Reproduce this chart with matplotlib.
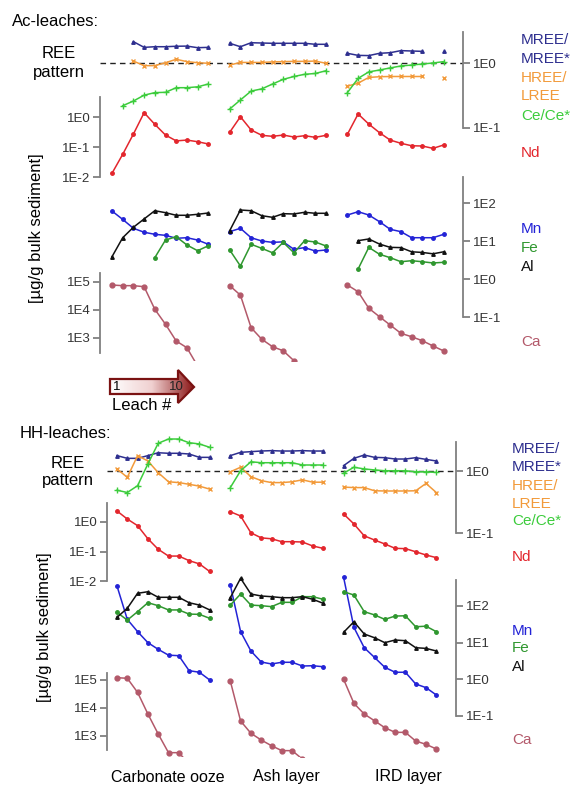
import numpy as np
import matplotlib
matplotlib.use('Agg')
import matplotlib.pyplot as plt
from matplotlib.patches import Polygon
from matplotlib.colors import LinearSegmentedColormap
from matplotlib.ticker import NullLocator

plt.rcParams['font.family'] = ['Liberation Sans', 'DejaVu Sans']

nan = np.nan
groups = ['Carbonate ooze', 'Ash layer', 'IRD layer']

# Ac-leaches, 10 leaches per sediment type (carbonate ooze, ash layer, IRD layer)
ac_mree = [nan, nan, 2.13, 1.74, 1.78, 1.78, 1.81, 1.82, 1.72, 1.74,
           2.01, 1.78, 2.05, 2.03, 2.01, 2.01, 2.01, 2.01, 1.94, 1.94,
           1.41, 1.31, 1.30, 1.41, 1.44, 1.55, 1.53, 1.51, nan, 1.53]
ac_hree = [nan, nan, 1.07, 0.91, 0.91, 1.01, 1.14, 1.05, 1.01, 0.99,
           0.93, 1.02, 1.02, 1.02, 1.04, 1.05, 1.06, 1.06, 1.07, 0.99,
           0.44, 0.49, 0.60, 0.615, 0.62, 0.62, 0.62, 0.62, nan, 0.59]
ac_ce = [nan, 0.22, 0.26, 0.32, 0.35, 0.354, 0.417, 0.417, 0.43, 0.475,
         0.196, 0.27, 0.37, 0.40, 0.475, 0.56, 0.62, 0.67, 0.69, 0.76,
         0.35, 0.58, 0.73, 0.78, 0.84, 0.90, 0.93, 0.965, 1.0, 1.05]
ac_nd = [0.0133, 0.057, 0.27, 1.39, 0.57, 0.25, 0.16, 0.17, 0.15, 0.126,
         0.31, 1.02, 0.37, 0.245, 0.227, 0.25, 0.215, 0.238, 0.21, 0.245,
         0.265, 1.26, 0.58, 0.30, 0.17, 0.133, 0.11, 0.108, 0.09, 0.117]
ac_mn = [61.5, 37, 21.6, 17, 15, 14.1, 11.8, 12.2, 10.6, 8.2,
         17.6, 21.6, 12.2, 10, 9.2, 9.5, 6.05, 6.7, 5.45, 5.8,
         48.3, 59, 48.3, 32.2, 20.3, 17.6, 12.2, 12.2, 12.2, 15]
ac_fe = [nan, nan, nan, nan, 3.64, 10.6, 13, 7.85, 5.55, 7.5,
         5.8, 2.2, 8.2, 6.4, 4.9, 9.2, 4.9, 10.2, 9.4, 7.4,
         nan, 1.83, 6.8, 4.47, 3.64, 2.85, 3.03, 2.85, 2.64, 2.75]
ac_al = [3.86, 12.2, 23, 38, 62.7, 55.6, 47.5, 47.5, 50.4, 54.6,
         18.7, 65.4, 62.7, 46.3, 42, 52.3, 51.4, 57, 53.6, 53.6,
         nan, 10.2, 11.3, 8.3, 6.8, 6.7, 5.2, 5.0, 4.6, 5.2]
ac_ca = [78000, 74000, 74000, 68000, 10600, 3100, 780, 450, 100, nan,
         74000, 34000, 2330, 900, 490, 350, 155, nan, nan, nan,
         78000, 45000, 11500, 5750, 2900, 1470, 1110, 800, 520, 345]

# HH-leaches
hh_mree = [1.77, 1.60, 1.60, 1.77, 1.97, 1.93, 1.93, 1.88, 1.66, 1.66,
           1.77, 2.0, 2.05, 2.1, 2.13, 2.1, 2.1, 2.13, 2.1, 2.1,
           1.22, 1.60, 1.81, 1.66, 1.64, 1.56, 1.56, 1.64, 1.54, 1.45]
hh_hree = [1.08, 0.79, 1.77, 1.45, 0.94, 0.67, 0.65, 0.61, 0.57, 0.51,
           0.97, 1.15, 0.81, 0.70, 0.65, 0.65, 0.67, 0.72, 0.66, 0.66,
           0.55, 0.54, 0.54, 0.48, 0.476, 0.476, 0.476, 0.48, 0.63, 0.45]
hh_ce = [0.49, 0.45, 0.58, 1.30, 2.8, 3.28, 3.28, 2.86, 2.73, 2.41,
         0.54, 1.01, 1.41, 1.36, 1.36, 1.36, 1.36, 1.25, 1.25, 1.25,
         0.92, 1.15, 1.08, 1.04, 1.01, 1.01, 1.01, 0.97, 0.97, 0.95]
hh_nd = [2.36, 1.26, 0.75, 0.27, 0.119, 0.070, 0.070, 0.049, 0.038, 0.021,
         2.23, 1.6, 0.43, 0.29, 0.27, 0.215, 0.215, 0.21, 0.154, 0.128,
         1.87, 0.86, 0.34, 0.245, 0.18, 0.128, 0.125, 0.098, 0.076, 0.062]
hh_mn = [353, 43, 19.8, 9.9, 6.5, 4.5, 4.35, 1.69, 1.53, 0.94,
         376, 19.8, 5.85, 2.92, 2.58, 2.87, 2.87, 2.27, 2.31, 2.17,
         611, 26, 7.2, 3.9, 2.09, 1.53, 1.53, 0.73, 0.58, 0.365]
hh_fe = [67, 41, 70, 123, 102, 78, 78, 60, 59, 46,
         106, 213, 106, 102, 96, 126, 126, 180, 180, 153,
         246, 200, 70, 57, 43, 53, 54, 27, 28, 19.8]
hh_al = [49, 86.5, 223, 246, 173, 173, 173, 123, 106, 78,
         169, 574, 213, 188, 180, 169, 169, 180, 153, 119,
         19, 37, 17.1, 13.5, 9.9, 11.7, 11.2, 7.2, 6.9, 5.85]
hh_ca = [121000, 115000, 36000, 6100, 1180, 254, 254, 100, nan, nan,
         92000, 3440, 1250, 720, 450, 300, 300, 150, nan, nan,
         106000, 14700, 6100, 3500, 1980, 1350, 1350, 660, 505, 344]

c_mree = '#2e2f8f'
c_hree = '#f29a3a'
c_ce = '#3ccc3c'
c_nd = '#e3262d'
c_mn = '#2323d6'
c_fe = '#2f972f'
c_al = '#111111'
c_ca = '#b3596a'
c_axis = '#808080'

W, H = 574, 785
fig = plt.figure(figsize=(W / 100, H / 100), dpi=100)


def add_ax(left, right, x0, step, top, bottom, ref_px, ref_exp, dec_px):
    # axes placed in pixel coordinates, log scale with dec_px pixels per decade
    ax = fig.add_axes([left / W, 1 - bottom / H, (right - left) / W, (bottom - top) / H])
    ax.set_facecolor('none')
    ax.set_yscale('log')
    ax.set_xlim(1 + (left - x0) / step, 1 + (right - x0) / step)
    ax.set_ylim(10 ** (ref_exp - (bottom - ref_px) / dec_px),
                10 ** (ref_exp + (ref_px - top) / dec_px))
    for s in ax.spines.values():
        s.set_visible(False)
    ax.set_xticks([])
    ax.yaxis.set_minor_locator(NullLocator())
    ax.set_yticks([])
    return ax


def set_axis(ax, side, lo, hi, ticks, labels):
    sp = ax.spines[side]
    sp.set_visible(True)
    sp.set_bounds(lo, hi)
    sp.set_color(c_axis)
    sp.set_linewidth(1.3)
    ax.yaxis.set_ticks_position(side)
    ax.set_yticks(ticks, labels)
    ax.tick_params(axis='y', length=5, width=1.3, color=c_axis, labelsize=9.5,
                   labelcolor='#333333', pad=2)


def draw(ax, values, color, marker, ms, clip=False):
    for g in range(3):
        xs = np.arange(1, 11) + 11 * g
        ax.plot(xs, values[10 * g:10 * g + 10], color=color, marker=marker, ms=ms,
                mew=1.0, lw=1.1, clip_on=clip)


def panel(p):
    x0, step, left, right = p['x']
    ree = add_ax(left, right, x0, step, *p['ree'])
    nd = add_ax(left, right, x0, step, *p['nd'])
    mfa = add_ax(left, right, x0, step, *p['mfa'])
    ca = add_ax(left, right, x0, step, *p['ca'])
    set_axis(ree, 'right', 0.1, p['ree_top'], [1, 0.1], ['1E0', '1E-1'])
    set_axis(nd, 'left', 0.01, p['nd_top'], [1, 0.1, 0.01], ['1E0', '1E-1', '1E-2'])
    set_axis(mfa, 'right', 0.1, p['mfa_top'], [100, 10, 1, 0.1], ['1E2', '1E1', '1E0', '1E-1'])
    set_axis(ca, 'left', p['ca_lo'], p['ca_top'], [1e5, 1e4, 1e3], ['1E5', '1E4', '1E3'])
    ree.axhline(1, color='#222222', lw=1.0, ls=(0, (4, 3)))
    d = p['data']
    draw(ree, d[0], c_mree, '^', 2.5)
    draw(ree, d[1], c_hree, 'x', 3.5)
    draw(ree, d[2], c_ce, '+', 4.5)
    draw(nd, d[3], c_nd, 'o', 2.5)
    draw(mfa, d[4], c_mn, 'o', 2.5)
    draw(mfa, d[5], c_fe, 'o', 2.5)
    draw(mfa, d[6], c_al, '^', 2.5)
    draw(ca, d[7], c_ca, 'o', 3.5, clip=True)


top_panel = {
    'x': (112, 10.7, 100, 463),
    'ree': (20, 130, 63, 0, 65),
    'nd': (90, 185, 117, 0, 30),
    'mfa': (170, 320, 279, 0, 38),
    'ca': (265, 361, 282, 5, 28),
    'ree_top': 10 ** (31 / 65), 'nd_top': 10 ** (20 / 30),
    'mfa_top': 10 ** (102 / 38), 'ca_lo': 10 ** (3 - 15 / 28), 'ca_top': 10 ** (5 + 9 / 28),
    'data': [ac_mree, ac_hree, ac_ce, ac_nd, ac_mn, ac_fe, ac_al, ac_ca],
}
bottom_panel = {
    'x': (117, 10.3, 107, 456),
    'ree': (430, 540, 471, 0, 62),
    'nd': (495, 590, 522, 0, 29.5),
    'mfa': (570, 720, 679, 0, 36.5),
    'ca': (665, 757, 680, 5, 28),
    'ree_top': 10 ** (29 / 62), 'nd_top': 10 ** (19 / 29.5),
    'mfa_top': 10 ** (99 / 36.5), 'ca_lo': 10 ** (5 - 70 / 28), 'ca_top': 10 ** (5 + 7 / 28),
    'data': [hh_mree, hh_hree, hh_ce, hh_nd, hh_mn, hh_fe, hh_al, hh_ca],
}
panel(top_panel)
panel(bottom_panel)

# overlay for texts and the leach arrow
axo = fig.add_axes([0, 0, 1, 1])
axo.set_facecolor('none')
axo.axis('off')

grad = np.linspace(0, 1, 256).reshape(1, -1)
cmap = LinearSegmentedColormap.from_list('arrow', ['#ffffff', '#f0d0d0', '#8a1616'])
im = axo.imshow(grad, extent=(110, 194, 403, 370), cmap=cmap, aspect='auto', zorder=1)
arrow = Polygon([(110, 379), (178, 379), (178, 370), (194, 387), (178, 403), (178, 394), (110, 394)],
                closed=True, fc='none', ec='#7a1212', lw=1.6, zorder=2)
axo.add_patch(arrow)
im.set_clip_path(arrow)
axo.set_xlim(0, W)
axo.set_ylim(H, 0)
axo.text(113, 387, '1', fontsize=9.5, ha='left', va='center', zorder=3)
axo.text(176, 387, '10', fontsize=9.5, ha='center', va='center', zorder=3, color='#222222')
axo.text(142, 405, 'Leach #', fontsize=12, ha='center', va='center')

axo.text(12, 21, 'Ac-leaches:', fontsize=12, ha='left', va='center')
axo.text(20, 434, 'HH-leaches:', fontsize=12, ha='left', va='center')
axo.text(59, 63, 'REE\npattern', fontsize=12, ha='center', va='center', linespacing=1.25)
axo.text(68, 472, 'REE\npattern', fontsize=12, ha='center', va='center', linespacing=1.25)
axo.text(37, 228, '[µg/g bulk sediment]', fontsize=12, rotation=90, ha='center', va='center')
axo.text(45, 627, '[µg/g bulk sediment]', fontsize=12, rotation=90, ha='center', va='center')

labels = ['MREE/', 'MREE*', 'HREE/', 'LREE', 'Ce/Ce*', 'Nd', 'Mn', 'Fe', 'Al', 'Ca']
label_colors = [c_mree, c_mree, c_hree, c_hree, c_ce, c_nd, c_mn, c_fe, c_al, c_ca]
top_y = [40, 59, 78, 96, 116, 153, 229, 248, 267, 342]
bot_y = [449, 467, 486, 504, 521, 557, 631, 648, 667, 740]
for lab, col, yt, yb in zip(labels, label_colors, top_y, bot_y):
    axo.text(521, yt, lab, fontsize=11, color=col, ha='left', va='center')
    axo.text(512, yb, lab, fontsize=11, color=col, ha='left', va='center')

for name, xc in zip(groups, [168, 286, 408]):
    axo.text(xc, 777, name, fontsize=11.5, ha='center', va='center')

fig.savefig('out.png', dpi=100)
